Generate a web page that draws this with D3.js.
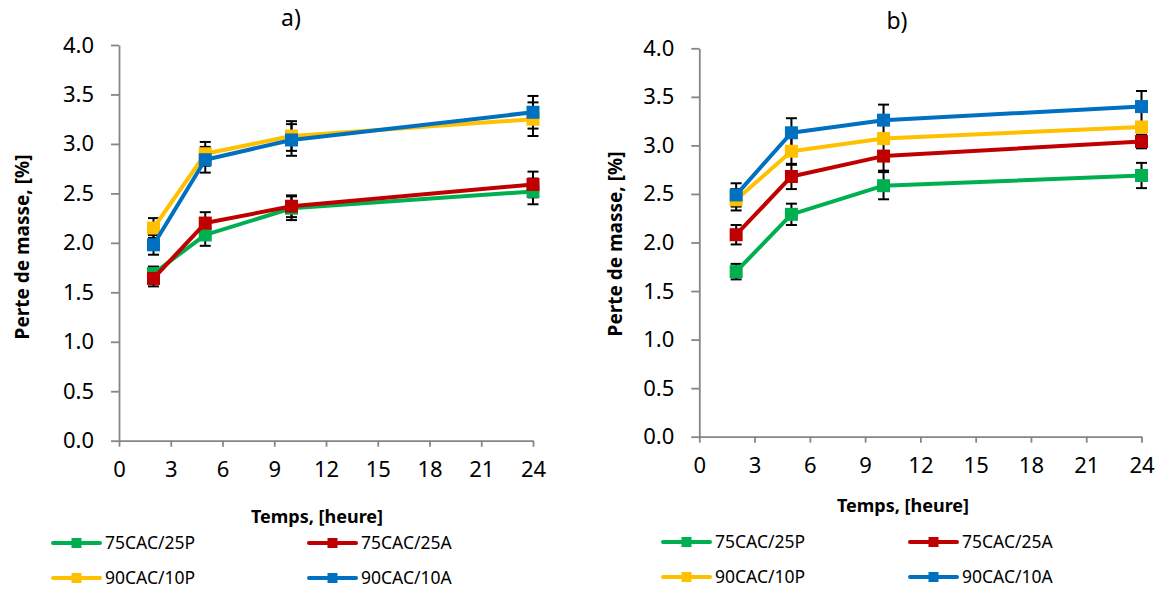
<!DOCTYPE html>
<html>
<head>
<meta charset="utf-8">
<script src="https://cdn.jsdelivr.net/npm/d3@7"></script>
<style>
  html, body { margin: 0; padding: 0; background: #fff; }
  svg { display: block; }
  text { font-family: "Noto Sans", "Open Sans", sans-serif; fill: #000; }
</style>
</head>
<body>
<svg id="chart" width="1162" height="592"></svg>
<script>
// ---------- DATA ----------
const times = [2, 5, 10, 24];
const seriesNames = ["75CAC/25P", "75CAC/25A", "90CAC/10P", "90CAC/10A"];
const seriesColors = ["#00B050", "#C00000", "#FFC000", "#0070C0"];
const xTicks = [0, 3, 6, 9, 12, 15, 18, 21, 24];
const yTicks = [0, 0.5, 1.0, 1.5, 2.0, 2.5, 3.0, 3.5, 4.0];

// panel a)
const a_75P = [1.69, 2.08, 2.35, 2.52];
const a_75A = [1.64, 2.20, 2.37, 2.59];
const a_90P = [2.15, 2.90, 3.08, 3.25];
const a_90A = [1.98, 2.84, 3.04, 3.32];
const a_err75P = [0.07, 0.11, 0.12, 0.13];
const a_err75A = [0.08, 0.11, 0.11, 0.13];
const a_err90P = [0.10, 0.12, 0.15, 0.17];
const a_err90A = [0.10, 0.13, 0.16, 0.165];

// panel b)
const b_75P = [1.70, 2.29, 2.585, 2.69];
const b_75A = [2.08, 2.68, 2.89, 3.04];
const b_90P = [2.44, 2.94, 3.07, 3.19];
const b_90A = [2.49, 3.13, 3.26, 3.40];
const b_err75P = [0.08, 0.11, 0.14, 0.13];
const b_err75A = [0.10, 0.13, 0.15, 0.07];
const b_err90P = [0.11, 0.14, 0.05, 0.05];
const b_err90A = [0.12, 0.15, 0.16, 0.16];

const titles = ["a)", "b)"];
const yTitle = "Perte de masse, [%]";
const xTitle = "Temps, [heure]";

// ---------- LAYOUT ----------
const panels = [
  {
    title: titles[0], titleX: 291, titleY: 26,
    x0: 119, x1: 533, y0: 440.7, y1: 45,
    yTitleX: 22, yTitleY: 247, xTitleX: 317, xTitleY: 523,
    values: [a_75P, a_75A, a_90P, a_90A],
    errors: [a_err75P, a_err75A, a_err90P, a_err90A],
    legend: { cols: [53, 309], rows: [543, 578], lineW: 47 }
  },
  {
    title: titles[1], titleX: 897, titleY: 29,
    x0: 699.3, x1: 1141.5, y0: 436.7, y1: 48.3,
    yTitleX: 615, yTitleY: 244, xTitleX: 903, xTitleY: 512,
    values: [b_75P, b_75A, b_90P, b_90A],
    errors: [b_err75P, b_err75A, b_err90P, b_err90A],
    legend: { cols: [663, 910], rows: [542, 577], lineW: 47 }
  }
];

const svg = d3.select("#chart");
const axisColor = "#868686";

panels.forEach(p => {
  const g = svg.append("g");
  const x = d3.scaleLinear().domain([0, 24]).range([p.x0, p.x1]);
  const y = d3.scaleLinear().domain([0, 4]).range([p.y0, p.y1]);

  // y axis
  const yAxis = g.append("g").attr("transform", `translate(${p.x0},0)`)
    .call(d3.axisLeft(y).tickValues(yTicks).tickFormat(d3.format(".1f")).tickSize(8).tickPadding(17).tickSizeOuter(0));
  yAxis.select(".domain").attr("stroke", axisColor).attr("stroke-width", 1.8);
  yAxis.selectAll(".tick line").attr("stroke", axisColor).attr("stroke-width", 1.8);
  yAxis.selectAll(".tick text").style("font-size", "22px").attr("fill", "#000");

  // x axis
  const xAxis = g.append("g").attr("transform", `translate(0,${p.y0})`)
    .call(d3.axisBottom(x).tickValues(xTicks).tickFormat(d3.format("d")).tickSize(6).tickPadding(15).tickSizeOuter(0));
  xAxis.select(".domain").attr("stroke", axisColor).attr("stroke-width", 1.8);
  xAxis.selectAll(".tick line").attr("stroke", axisColor).attr("stroke-width", 1.8);
  xAxis.selectAll(".tick text").style("font-size", "22px").attr("fill", "#000");

  // titles
  g.append("text").attr("x", p.titleX).attr("y", p.titleY).attr("text-anchor", "middle")
    .style("font-size", "23px").text(p.title);
  g.append("text").attr("transform", `translate(${p.yTitleX + 7},${p.yTitleY}) rotate(-90)`)
    .attr("text-anchor", "middle").style("font-size", "19px").style("font-weight", "bold").text(yTitle);
  g.append("text").attr("x", p.xTitleX).attr("y", p.xTitleY).attr("text-anchor", "middle")
    .style("font-size", "18px").style("font-weight", "bold").text(xTitle);

  // error bars (drawn beneath the series)
  const cap = 5.5;
  p.values.forEach((vals, si) => {
    vals.forEach((v, i) => {
      const e = p.errors[si][i];
      const cx = x(times[i]);
      const yt = y(v + e), yb = y(v - e);
      g.append("line").attr("x1", cx).attr("x2", cx).attr("y1", yt).attr("y2", yb)
        .attr("stroke", "#000").attr("stroke-width", 2);
      g.append("line").attr("x1", cx - cap).attr("x2", cx + cap).attr("y1", yt).attr("y2", yt)
        .attr("stroke", "#000").attr("stroke-width", 2);
      g.append("line").attr("x1", cx - cap).attr("x2", cx + cap).attr("y1", yb).attr("y2", yb)
        .attr("stroke", "#000").attr("stroke-width", 2);
    });
  });

  // series
  const line = d3.line().x((d, i) => x(times[i])).y(d => y(d));
  p.values.forEach((vals, si) => {
    g.append("path").datum(vals).attr("d", line).attr("fill", "none")
      .attr("stroke", seriesColors[si]).attr("stroke-width", 4).attr("stroke-linejoin", "round");
    g.selectAll(null).data(vals).enter().append("rect")
      .attr("x", (d, i) => x(times[i]) - 6.5).attr("y", d => y(d) - 6.5)
      .attr("width", 13).attr("height", 13).attr("fill", seriesColors[si]);
  });

  // legend
  seriesNames.forEach((name, si) => {
    const lx = p.legend.cols[si % 2];
    const ly = p.legend.rows[Math.floor(si / 2)];
    g.append("line").attr("x1", lx).attr("x2", lx + p.legend.lineW).attr("y1", ly).attr("y2", ly)
      .attr("stroke", seriesColors[si]).attr("stroke-width", 4).attr("stroke-linecap", "round");
    g.append("rect").attr("x", lx + p.legend.lineW / 2 - 5).attr("y", ly - 5).attr("width", 10).attr("height", 10)
      .attr("fill", seriesColors[si]);
    g.append("text").attr("x", lx + p.legend.lineW + 5).attr("y", ly + 6)
      .style("font-size", "17.5px").text(name);
  });
});
</script>
</body>
</html>
